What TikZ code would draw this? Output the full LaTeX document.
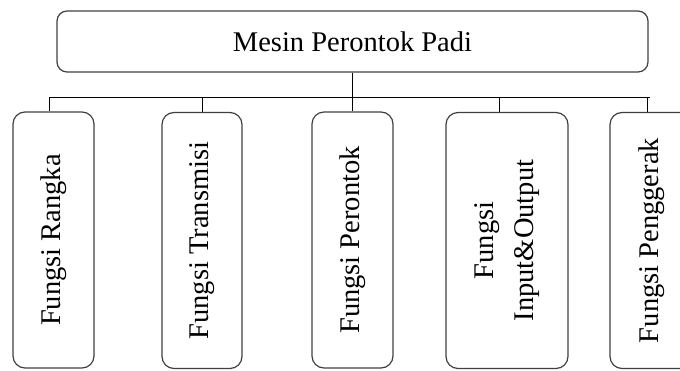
\documentclass[tikz,border=0pt]{standalone}
\usepackage{fontspec}
\setmainfont{Liberation Serif}
\begin{document}
\begin{tikzpicture}[x=1pt,y=-1pt,
  label font/.style={font=\fontsize{28.5}{40}\selectfont},
  headbox/.style={draw=black!75,line width=1.2pt,rounded corners=10pt,
    minimum width=591pt,minimum height=61pt,inner sep=0pt,label font},
  partbox/.style={draw=black!75,line width=1.2pt,rounded corners=12pt,
    rotate=90,minimum width=256pt,inner sep=0pt,label font,align=center},
  link/.style={draw=black,line width=1pt}]
\useasboundingbox (0,0) rectangle (680,370);
\clip (0,0) rectangle (680,370);

% root of the tree
\node[headbox] (top) at (352.5,41.5) {Mesin Perontok Padi};

% the five functions
\node[partbox,minimum height=81pt]  (rangka)    at (53.5,240)  {Fungsi Rangka};
\node[partbox,minimum height=80pt]  (transmisi) at (202,240.5) {Fungsi Transmisi};
\node[partbox,minimum height=81pt]  (perontok)  at (352.5,240) {Fungsi Perontok};
\node[partbox,minimum height=122pt] (io)        at (507,240.5) {Fungsi\\Input\&Output};
\node[partbox,minimum height=84pt]  (gerak)     at (652,240.5) {Fungsi Penggerak};

% horizontal bus and its drop points
\coordinate (busL) at (49,97);
\coordinate (busR) at (650,97);
\coordinate (d1) at (49,97);
\coordinate (d2) at (202,97);
\coordinate (d4) at (499,97);
\coordinate (d5) at (647,97);

\path[link] (busL) -- (busR);
\path[link] (top.south) -- (top.south |- perontok.east);
\path[link] (d1) -- (d1 |- rangka.east);
\path[link] (d2) -- (d2 |- transmisi.east);
\path[link] (d4) -- (d4 |- io.east);
\path[link] (d5) -- (d5 |- gerak.east);
\end{tikzpicture}
\end{document}
